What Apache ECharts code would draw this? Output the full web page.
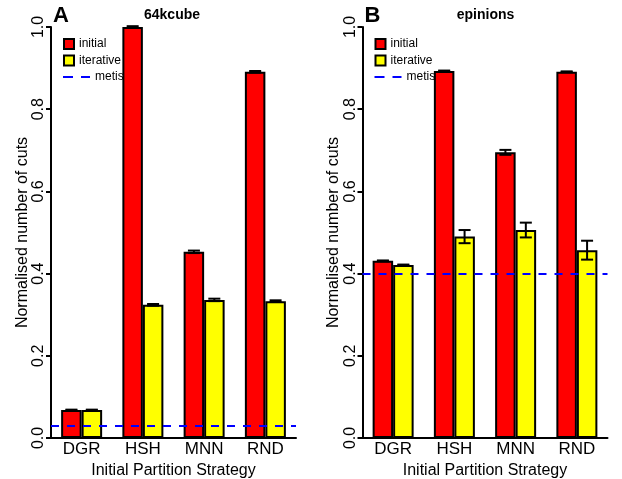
<!DOCTYPE html>
<html><head><meta charset="utf-8">
<script src="https://cdn.jsdelivr.net/npm/echarts@6/dist/echarts.min.js"></script>
<style>html,body{margin:0;padding:0;background:#fff}#c{width:622px;height:479px}</style>
</head><body><div id="c"></div>
<script>
const categories = ['DGR', 'HSH', 'MNN', 'RND'];
const yTicks = [0, 0.2, 0.4, 0.6, 0.8, 1.0];
const panelLetters = ['A', 'B'];
const panelTitles = ['64kcube', 'epinions'];
const cubeInitial = [0.068, 1.000, 0.453, 0.891];
const cubeIterative = [0.068, 0.324, 0.336, 0.333];
const cubeInitialErr = [0.001, 0.002, 0.003, 0.002];
const cubeIterativeErr = [0.001, 0.002, 0.003, 0.002];
const cubeMetis = 0.025;
const epInitial = [0.431, 0.893, 0.695, 0.891];
const epIterative = [0.421, 0.490, 0.506, 0.457];
const epInitialErr = [0.001, 0.001, 0.006, 0.001];
const epIterativeErr = [0.001, 0.016, 0.018, 0.023];
const epMetis = 0.401;

const FONT = "'Liberation Sans', Arial, Helvetica, sans-serif";
const panels = [
  {init: cubeInitial, iter: cubeIterative, initErr: cubeInitialErr, iterErr: cubeIterativeErr, metis: cubeMetis, left: 51},
  {init: epInitial, iter: epIterative, initErr: epInitialErr, iterErr: epIterativeErr, metis: epMetis, left: 362.5}
];

function errRender(sign) {
  return function (params, api) {
    const i = api.value(0), v = api.value(1), e = api.value(2);
    const band = api.size([1, 0])[0];
    const top = api.coord([i, v + e]);
    const bot = api.coord([i, v - e]);
    const x = top[0] + sign * band / 6;
    const hw = 6;
    const st = {stroke: '#000', lineWidth: 2};
    return {type: 'group', children: [
      {type: 'line', shape: {x1: x, y1: top[1], x2: x, y2: bot[1]}, style: st},
      {type: 'line', shape: {x1: x - hw, y1: top[1], x2: x + hw, y2: top[1]}, style: st},
      {type: 'line', shape: {x1: x - hw, y1: bot[1], x2: x + hw, y2: bot[1]}, style: st}
    ]};
  };
}

const grid = [], xAxis = [], yAxis = [], series = [], legend = [], graphic = [];
panels.forEach((p, k) => {
  grid.push({left: p.left, top: 27, width: 245, height: 411, containLabel: false, outerBoundsMode: 'none'});
  xAxis.push({
    type: 'category', gridIndex: k, data: categories,
    axisTick: {show: false},
    axisLine: {lineStyle: {color: '#000', width: 2}},
    axisLabel: {color: '#000', fontSize: 17, fontFamily: FONT, margin: 3},
    name: 'Initial Partition Strategy', nameLocation: 'middle', nameGap: 18,
    nameTextStyle: {color: '#000', fontSize: 16, fontFamily: FONT}
  });
  yAxis.push({
    type: 'value', gridIndex: k, min: yTicks[0], max: yTicks[yTicks.length - 1], interval: 0.2,
    splitLine: {show: false},
    axisLine: {show: true, lineStyle: {color: '#000', width: 2}},
    axisTick: {show: true, length: 5, lineStyle: {color: '#000', width: 2}},
    axisLabel: {color: '#000', fontSize: 16, fontFamily: FONT, rotate: 90, margin: 4,
      formatter: v => v.toFixed(1)},
    name: 'Normalised number of cuts', nameLocation: 'middle', nameGap: 20, nameRotate: 90,
    nameTextStyle: {color: '#000', fontSize: 16, fontFamily: FONT}
  });
  series.push({
    name: 'initial', type: 'bar', xAxisIndex: k, yAxisIndex: k, data: p.init,
    barWidth: 20.5, barGap: '0%', z: 2,
    itemStyle: {color: '#ff0000', borderColor: '#000', borderWidth: 2}
  });
  series.push({
    name: 'iterative', type: 'bar', xAxisIndex: k, yAxisIndex: k, data: p.iter,
    barWidth: 20.5, barGap: '0%', z: 2,
    itemStyle: {color: '#ffff00', borderColor: '#000', borderWidth: 2}
  });
  series.push({
    name: 'metis', type: 'line', xAxisIndex: k, yAxisIndex: k, data: [], symbol: 'none', z: 5,
    lineStyle: {color: '#0000ff', width: 2, type: [9, 9]}, itemStyle: {color: '#0000ff'},
    markLine: {silent: true, symbol: 'none', label: {show: false},
      lineStyle: {color: '#0000ff', width: 2, type: [8, 8]},
      data: [{yAxis: p.metis}]}
  });
  series.push({
    type: 'custom', xAxisIndex: k, yAxisIndex: k, z: 4, renderItem: errRender(-1),
    data: p.init.map((v, i) => [i, v, p.initErr[i]])
  });
  series.push({
    type: 'custom', xAxisIndex: k, yAxisIndex: k, z: 4, renderItem: errRender(1),
    data: p.iter.map((v, i) => [i, v, p.iterErr[i]])
  });
  const lx = p.left + 12;
  legend.push({
    data: ['initial', 'iterative'], orient: 'vertical', left: lx, top: 38, padding: 0,
    itemWidth: 10, itemHeight: 10, itemGap: 4.5, icon: 'rect', z: 1, selectedMode: false,
    itemStyle: {borderColor: '#000', borderWidth: 2},
    textStyle: {color: '#000', fontSize: 12, fontFamily: FONT}
  });
  legend.push({
    data: [{name: 'metis', icon: 'path://M0,0h10v2h-10z M18,0h9v2h-9z'}],
    orient: 'vertical', left: lx, top: 71, padding: 0,
    itemWidth: 27, itemHeight: 2.5, z: 1, selectedMode: false,
    itemStyle: {color: '#0000ff', borderWidth: 0},
    textStyle: {color: '#000', fontSize: 12, fontFamily: FONT}
  });
  graphic.push({type: 'text', x: p.left + 2, y: 16, z: 10,
    style: {text: panelLetters[k], font: 'bold 22px ' + FONT, fill: '#000', textVerticalAlign: 'middle'}});
  graphic.push({type: 'text', x: p.left + 121 + (k ? 2 : 0), y: 15.5, z: 10,
    style: {text: panelTitles[k], font: 'bold 14px ' + FONT, fill: '#000', textAlign: 'center', textVerticalAlign: 'middle'}});
});

const chart = echarts.init(document.getElementById('c'), null, {renderer: 'canvas'});
chart.setOption({
  animation: false, backgroundColor: '#fff',
  grid, xAxis, yAxis, series, legend, graphic
});
</script>
</body></html>
